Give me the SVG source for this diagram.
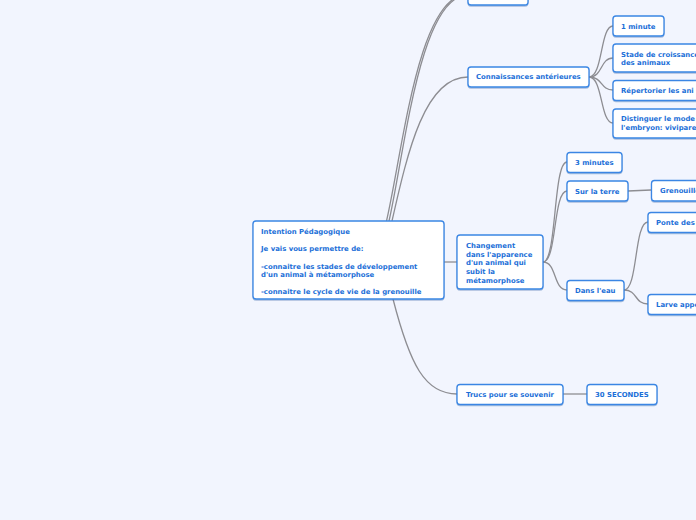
<svg xmlns="http://www.w3.org/2000/svg" width="696" height="520" viewBox="0 0 696 520">
<defs>
<filter id="sh" x="-10%" y="-20%" width="120%" height="150%">
<feDropShadow dx="0" dy="1" stdDeviation="0.7" flood-color="#1a4f9a" flood-opacity="0.35"/>
</filter>
<style>
.n{fill:#ffffff;stroke:#3a86e4;stroke-width:1.3;filter:url(#sh)}
.t{font-family:"DejaVu Sans",Verdana,sans-serif;font-weight:bold;font-size:6.9px;fill:#1b6fd8}
.c{fill:none;stroke:#8d8d92;stroke-width:1.3}
</style>
</defs>
<rect width="696" height="520" fill="#f2f5fe"/>
<g id="connectors">
<path class="c" d="M386.5 221 C403 150 418 -6 468 -6"/>
<path class="c" d="M389 221 C405 150 420 -5 468 -5"/>
<path class="c" d="M392 221 C408 150 425 77 468 77"/>
<path class="c" d="M444 262 L457 262"/>
<path class="c" d="M393 299 C410 365 425 394 457 394"/>
<path class="c" d="M589 77 C603 77 600 26 613 26"/>
<path class="c" d="M589 77 C603 77 600 58 613 58"/>
<path class="c" d="M589 77 C603 77 600 90 613 90"/>
<path class="c" d="M589 77 C603 77 600 123 613 123"/>
<path class="c" d="M543 262 C557 262 553 162 567 162"/>
<path class="c" d="M543 262 C557 262 553 191 567 191"/>
<path class="c" d="M543 262 C557 262 553 290 567 290"/>
<path class="c" d="M628 191 L651 190"/>
<path class="c" d="M624 290 C638 290 634 222 648 222"/>
<path class="c" d="M624 290 C638 290 634 304 648 304"/>
<path class="c" d="M563 394 L587 394"/>
</g>
<g id="root">
<rect class="n" x="253" y="221" width="191" height="78" rx="3"/>
<text class="t" x="261" y="233.5">Intention Pédagogique</text>
<text class="t" x="261" y="251">Je vais vous permettre de:</text>
<text class="t" x="261" y="268.5">-connaitre les stades de développement</text>
<text class="t" x="261" y="277">d'un animal à métamorphose</text>
<text class="t" x="261" y="293.5">-connaitre le cycle de vie de la grenouille</text>
</g>
<g id="top-node">
<rect class="n" x="468" y="-16" width="60" height="21" rx="3"/>
</g>
<g id="connaissances">
<rect class="n" x="468" y="67" width="121" height="20" rx="3"/>
<text class="t" x="476" y="79">Connaissances antérieures</text>
</g>
<g id="one-minute">
<rect class="n" x="613" y="16" width="51" height="20" rx="3"/>
<text class="t" x="621" y="29">1 minute</text>
</g>
<g id="stade">
<rect class="n" x="613" y="44" width="100" height="28" rx="3"/>
<text class="t" x="621" y="57">Stade de croissance</text>
<text class="t" x="621" y="65.3">des animaux</text>
</g>
<g id="repertorier">
<rect class="n" x="613" y="80.5" width="100" height="20" rx="3"/>
<text class="t" x="621" y="93">Répertorier les ani</text>
</g>
<g id="distinguer">
<rect class="n" x="613" y="109" width="100" height="29" rx="3"/>
<text class="t" x="621" y="121.3">Distinguer le mode</text>
<text class="t" x="621" y="130">l'embryon: vivipare</text>
</g>
<g id="changement">
<rect class="n" x="457" y="235" width="86" height="54" rx="3"/>
<text class="t" x="466" y="248">Changement</text>
<text class="t" x="466" y="256.8">dans l'apparence</text>
<text class="t" x="466" y="265.3">d'un animal qui</text>
<text class="t" x="466" y="274">subit la</text>
<text class="t" x="466" y="282.5">métamorphose</text>
</g>
<g id="trois-minutes">
<rect class="n" x="567" y="152.5" width="55" height="20" rx="3"/>
<text class="t" x="575" y="165">3 minutes</text>
</g>
<g id="sur-la-terre">
<rect class="n" x="567" y="181" width="61" height="20" rx="3"/>
<text class="t" x="575" y="194">Sur la terre</text>
</g>
<g id="grenouille">
<rect class="n" x="651.5" y="180.5" width="80" height="20.5" rx="3"/>
<text class="t" x="660" y="193">Grenouille</text>
</g>
<g id="dans-leau">
<rect class="n" x="567" y="280.5" width="57" height="20" rx="3"/>
<text class="t" x="575" y="293">Dans l'eau</text>
</g>
<g id="ponte">
<rect class="n" x="648" y="212.5" width="80" height="20" rx="3"/>
<text class="t" x="656" y="225">Ponte des</text>
</g>
<g id="larve">
<rect class="n" x="648" y="294.5" width="80" height="20" rx="3"/>
<text class="t" x="656" y="307">Larve appe</text>
</g>
<g id="trucs">
<rect class="n" x="457" y="384.5" width="106" height="20" rx="3"/>
<text class="t" x="466" y="397">Trucs pour se souvenir</text>
</g>
<g id="trente-secondes">
<rect class="n" x="587" y="384.5" width="70" height="20" rx="3"/>
<text class="t" x="595" y="397">30 SECONDES</text>
</g>
</svg>
